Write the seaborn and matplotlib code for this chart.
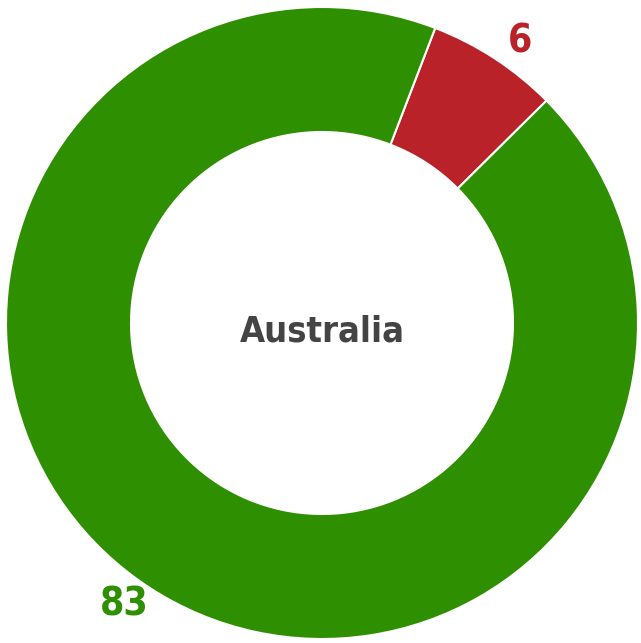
import matplotlib
matplotlib.use('Agg')
import matplotlib.pyplot as plt
import seaborn as sns
import numpy as np

sns.set_style('white')

# data
labels = ['6', '83']
values = [6, 83]
colors = ['#b82228', '#2e8f00']
center_label = 'Australia'

plt.rcParams['font.family'] = ['DejaVu Sans']
plt.rcParams['font.stretch'] = 'condensed'

fig = plt.figure(figsize=(6.41, 6.43), dpi=100)
ax = fig.add_axes([0, 0, 1, 1])
cx, cy, r = 322, 643 - 323, 316

wedges, _ = ax.pie(values, colors=colors, startangle=69,
                   counterclock=False, center=(cx, cy), radius=r,
                   wedgeprops=dict(width=r - 191, edgecolor='white', linewidth=1.5))

# value labels just outside the ring, nudged a little clockwise
for w, lab, c in zip(wedges, labels, colors):
    mid = np.deg2rad((w.theta1 + w.theta2) / 2 - 2)
    ax.text(cx + 1.09 * r * np.cos(mid), cy + 1.09 * r * np.sin(mid), lab,
            ha='center', va='center', color=c, fontsize=28, fontweight='bold',
            fontstretch='condensed')

ax.text(cx, 643 - 332, center_label, ha='center', va='center', fontsize=26,
        fontweight='bold', fontstretch='condensed', color='#444444')

ax.set_xlim(0, 641)
ax.set_ylim(0, 643)
ax.set_aspect('equal')
ax.axis('off')
fig.savefig('out.png', dpi=100)
